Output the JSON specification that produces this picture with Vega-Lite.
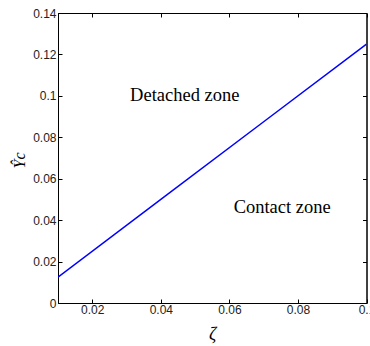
{
  "$schema": "https://vega.github.io/schema/vega-lite/v6.json",
  "autosize": {"type": "none"},
  "width": 308.5,
  "height": 290,
  "padding": {"left": 58, "top": 13, "right": 4, "bottom": 43},
  "background": "white",
  "config": {
    "view": {"stroke": "black", "strokeWidth": 1},
    "axis": {
      "grid": false,
      "domainColor": "black",
      "tickColor": "black",
      "tickSize": -4,
      "labelFont": "Liberation Sans",
      "labelFontSize": 12,
      "labelColor": "#222",
      "labelFlush": false,
      "labelOverlap": false,
      "labelBound": false
    }
  },
  "layer": [
    {
      "data": {"values": [
        {"zeta": 0.01, "Y": 0.0125},
        {"zeta": 0.04, "Y": 0.05},
        {"zeta": 0.07, "Y": 0.0875},
        {"zeta": 0.1, "Y": 0.125}
      ]},
      "mark": {"type": "line", "color": "#0000FF", "strokeWidth": 1.5, "clip": true},
      "encoding": {
        "x": {"field": "zeta", "type": "quantitative",
              "scale": {"domain": [0.01, 0.1], "nice": false, "zero": false},
              "axis": {"orient": "bottom", "values": [0.02, 0.04, 0.06, 0.08, 0.1], "format": "~g",
                       "labelPadding": 5, "title": "ζ", "titleFont": "Liberation Serif", "titleFontStyle": "italic",
                       "titleFontWeight": "normal", "titleFontSize": 18, "titlePadding": 10}},
        "y": {"field": "Y", "type": "quantitative",
              "scale": {"domain": [0, 0.14], "nice": false},
              "axis": {"orient": "left", "values": [0, 0.02, 0.04, 0.06, 0.08, 0.1, 0.12, 0.14], "format": "~g",
                       "labelPadding": 6, "title": "Ŷc", "titleFont": "Liberation Serif", "titleFontStyle": "italic",
                       "titleFontWeight": "normal", "titleFontSize": 16, "titleX": -31, "titleY": 147}}
      }
    },
    {
      "data": {"values": [
        {"zeta": 0.01, "Y": 0.0125},
        {"zeta": 0.1, "Y": 0.125}
      ]},
      "mark": {"type": "line", "opacity": 0},
      "encoding": {
        "x": {"field": "zeta", "type": "quantitative",
              "axis": {"orient": "top", "values": [0.02, 0.04, 0.06, 0.08, 0.1], "labels": false, "title": null}},
        "y": {"field": "Y", "type": "quantitative",
              "axis": {"orient": "right", "values": [0, 0.02, 0.04, 0.06, 0.08, 0.1, 0.12, 0.14], "labels": false, "title": null}}
      }
    },
    {
      "data": {"values": [
        {"zeta": 0.047, "Y": 0.0975, "label": "Detached zone"},
        {"zeta": 0.0754, "Y": 0.0434, "label": "Contact zone"}
      ]},
      "mark": {"type": "text", "font": "Liberation Serif", "fontSize": 18.5, "color": "black", "baseline": "alphabetic"},
      "encoding": {
        "x": {"field": "zeta", "type": "quantitative", "axis": null},
        "y": {"field": "Y", "type": "quantitative", "axis": null},
        "text": {"field": "label"}
      }
    }
  ],
  "resolve": {"axis": {"x": "independent", "y": "independent"}}
}
